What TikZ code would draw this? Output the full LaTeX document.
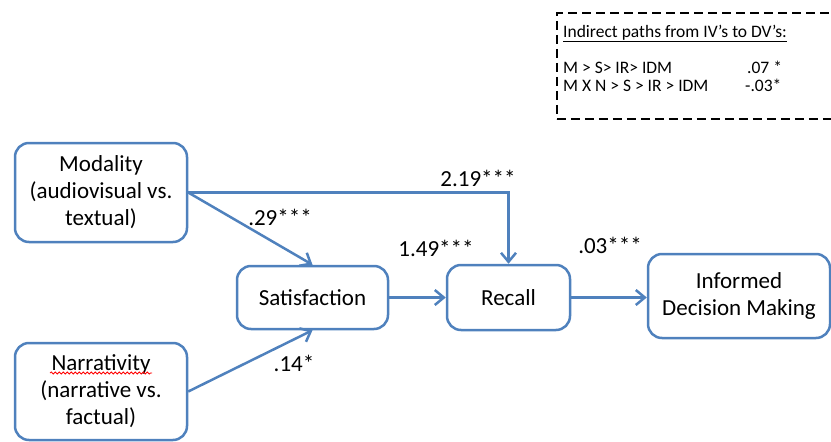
\documentclass[tikz,border=0pt]{standalone}
\usepackage{fontspec}
\setmainfont{Carlito}
\usetikzlibrary{arrows.meta, decorations.pathmorphing}
\definecolor{boxblue}{RGB}{79,129,189}

\begin{document}
\begin{tikzpicture}[x=1pt, y=-1pt, >={Straight Barb[length=9pt,width=15pt]}, font=\fontsize{23}{27}\selectfont]

\tikzstyle{block} = [draw=boxblue, shape=rectangle, rounded corners=14pt, line width=2.5pt, align=center, inner sep=0pt]
\tikzstyle{link} = [->, draw=boxblue, line width=2.5pt]
\tikzstyle{coef} = [inner sep=0pt]
\tikzstyle{note} = [font=\fontsize{17.5}{20}\selectfont, inner sep=0pt, anchor=base west]

\useasboundingbox (0,0) rectangle (831,442);

%Creating Blocks
\node[block, minimum width=172pt, minimum height=99pt] at (101,192.5) (mod) {Modality\\(audiovisual vs.\\textual)};
\node[block, minimum width=172pt, minimum height=97pt] at (101,391.5) (nar) {Narrativity\\(narrative vs.\\factual)};
\node[block, minimum width=151pt, minimum height=63pt] at (312.5,297.5) (sat) {Satisfaction};
\node[block, minimum width=123pt, minimum height=65pt] at (508.5,297.5) (rec) {Recall};
\node[block, minimum width=182pt, minimum height=84pt] at (739,296) (idm) {Informed\\Decision Making};

%Spelling mark under Narrativity
\draw[red, line width=0.8pt, decorate, decoration={snake, amplitude=1pt, segment length=4pt}] (50,373) -- (152,373);

%Indirect paths box
\node[draw, dash pattern=on 9pt off 5pt, line width=1.8pt, minimum width=300pt, minimum height=106pt, anchor=north west] at (556,12) (paths) {};
\node[note] at (563,37) (head) {\underline{Indirect paths from IV’s to DV’s:}};
\node[note] at (563,73) (p1) {M > S> IR> IDM};
\node[note] at (747,73) (v1) {.07 *};
\node[note] at (563,91) (p2) {M X N > S > IR > IDM};
\node[note] at (745,91) (v2) {-.03*};

%Conecting Blocks
\draw[link] (mod.east) -| (rec.north);
\draw[link] (mod.east) -- (sat.north);
\draw[link] (nar.east) -- (sat.south);
\draw[link] (sat) -- (rec);
\draw[link] (rec.east) -- (rec.east -| idm.west);

%Coefficients
\node[coef] at (478,178) (c219) {2.19***};
\node[coef] at (280,217) (c29) {.29***};
\node[coef] at (436,248) (c149) {1.49***};
\node[coef] at (610,245) (c03) {.03***};
\node[coef] at (294,363) (c14) {.14*};
\end{tikzpicture}
\end{document}
